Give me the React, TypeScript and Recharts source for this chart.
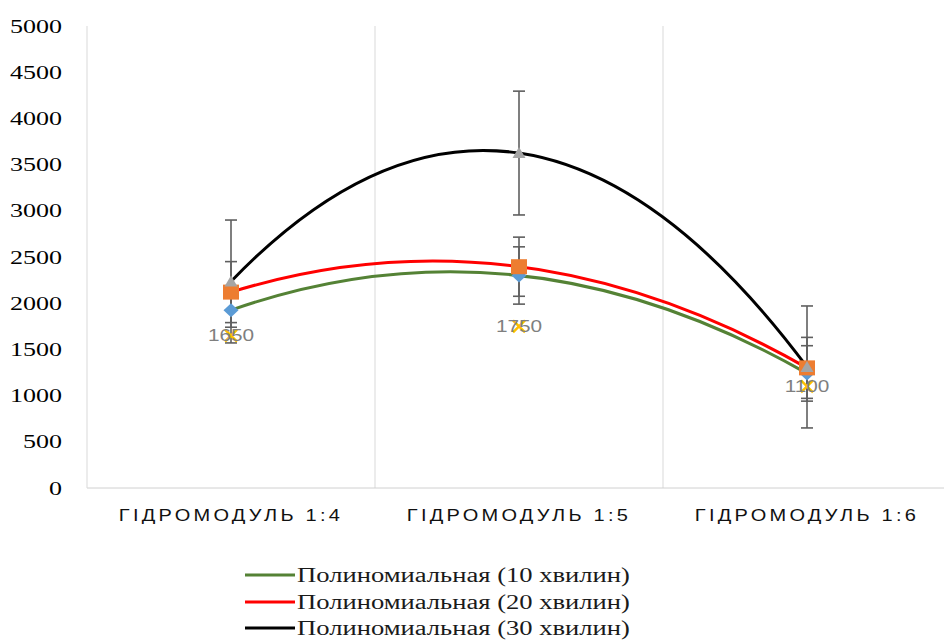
import React from 'react'
import { ComposedChart, Scatter, Line, XAxis, YAxis, ErrorBar, ReferenceLine, Legend, LabelList } from 'recharts'

const categories = ['ГІДРОМОДУЛЬ 1:4', 'ГІДРОМОДУЛЬ 1:5', 'ГІДРОМОДУЛЬ 1:6']
const yTicks = [0, 500, 1000, 1500, 2000, 2500, 3000, 3500, 4000, 4500, 5000]

// 10, 20, 30 хвилин + окрема серія з підписами
const min10 = [1925, 2300, 1240]
const err10 = [185, 310, 300]
const min20 = [2120, 2395, 1300]
const err20 = [330, 320, 330]
const min30 = [2235, 3625, 1310]
const err30 = [665, 670, 660]
const extra = [1650, 1750, 1100]

const trendNames = ['Полиномиальная (10 хвилин)', 'Полиномиальная (20 хвилин)', 'Полиномиальная (30 хвилин)']
const trendColors = ['#548235', '#FF0000', '#000000']

const data = categories.map((c, i) => ({
  x: i + 1,
  name: c,
  s10: min10[i], e10: err10[i],
  s20: min20[i], e20: err20[i],
  s30: min30[i], e30: err30[i],
  s40: extra[i],
}))

// polynomial (order 2) trendline through the three points: quadratic bezier
const quadCurve = (context: any) => {
  let pts: number[][] = []
  return {
    areaStart() {},
    areaEnd() {},
    lineStart() { pts = [] },
    point(x: number, y: number) { pts.push([+x, +y]) },
    lineEnd() {
      if (pts.length === 3) {
        const [p0, p1, p2] = pts
        context.moveTo(p0[0], p0[1])
        context.quadraticCurveTo(2 * p1[0] - (p0[0] + p2[0]) / 2, 2 * p1[1] - (p0[1] + p2[1]) / 2, p2[0], p2[1])
      } else {
        pts.forEach((p, i) => (i ? context.lineTo(p[0], p[1]) : context.moveTo(p[0], p[1])))
      }
    },
  }
}

const serif = "'Liberation Serif', 'Times New Roman', serif"
const sans = "'Liberation Sans', Arial, sans-serif"

const Diamond = ({ cx, cy }: any) => (
  <polygon points={`${cx},${cy - 7} ${cx + 7.5},${cy} ${cx},${cy + 7} ${cx - 7.5},${cy}`} fill="#5B9BD5" />
)
const Square = ({ cx, cy }: any) => <rect x={cx - 8} y={cy - 7.5} width={16} height={15} fill="#ED7D31" />
const Triangle = ({ cx, cy }: any) => (
  <polygon points={`${cx},${cy - 6} ${cx + 6.5},${cy + 5} ${cx - 6.5},${cy + 5}`} fill="#A5A5A5" />
)
const Cross = ({ cx, cy }: any) => (
  <g stroke="#FFC000" strokeWidth={2.5}>
    <line x1={cx - 6} y1={cy - 6} x2={cx + 6} y2={cy + 6} />
    <line x1={cx - 6} y1={cy + 6} x2={cx + 6} y2={cy - 6} />
  </g>
)

const YTick = ({ x, y, payload }: any) => (
  <text transform={`translate(${x},${y}) scale(1.37,1)`} textAnchor="end" dy="0.35em" fontFamily={serif} fontSize={19} fill="#000">
    {payload.value}
  </text>
)

const XTick = ({ x, y, payload }: any) => (
  <text transform={`translate(${x},${y}) scale(1.25,1)`} textAnchor="middle" dy="0.71em" fontFamily={sans} fontSize={16} letterSpacing={2.6} fill="#111">
    {categories[payload.value - 1]}
  </text>
)

const PointLabel = (props: any) => {
  const vb = props.viewBox || props
  const cx = vb.x + (vb.width || 0) / 2
  const cy = vb.y + (vb.height || 0) / 2
  return (
    <text transform={`translate(${cx},${cy}) scale(1.3,1)`} textAnchor="middle" dy="0.35em" fontFamily={sans} fontSize={16} fill="#7F7F7F">
      {props.value}
    </text>
  )
}

const renderLegend = () => (
  <div style={{ height: 80 }}>
    {trendNames.map((n, i) => (
      <div key={n} style={{ display: 'flex', alignItems: 'center', height: 26.5 }}>
        <svg width={50} height={6} style={{ flex: 'none' }}>
          <line x1={0} y1={3} x2={50} y2={3} stroke={trendColors[i]} strokeWidth={3} />
        </svg>
        <span style={{ fontFamily: serif, fontSize: 20, lineHeight: '22px', color: '#1a1a1a', display: 'inline-block', transform: 'scaleX(1.33)', transformOrigin: 'left center', whiteSpace: 'nowrap', marginLeft: 2 }}>
          {n}
        </span>
      </div>
    ))}
  </div>
)

export default function App() {
  return (
    <div style={{ width: 944, height: 642, background: '#fff', overflow: 'hidden' }}>
      <style>{'body{margin:0}'}</style>
      <ComposedChart width={944} height={642} data={data} margin={{ top: 26, right: -7, left: 0, bottom: 44 }}>
        <XAxis dataKey="x" type="number" domain={[0.5, 3.5]} ticks={[1, 2, 3]} height={30} tickSize={0} tickMargin={22} tick={<XTick />} axisLine={{ stroke: '#d0d0d0' }} />
        <YAxis type="number" domain={[0, 5000]} ticks={yTicks} width={87} tickSize={0} tickMargin={25} tick={<YTick />} axisLine={{ stroke: '#d9d9d9' }} tickLine={false} />
        <ReferenceLine x={1.5} stroke="#d9d9d9" />
        <ReferenceLine x={2.5} stroke="#d9d9d9" />
        <Scatter dataKey="s10" shape={<Diamond />} legendType="none" isAnimationActive={false}>
          <ErrorBar dataKey="e10" direction="y" width={6} stroke="#5f5f5f" strokeWidth={1.6} />
        </Scatter>
        <Scatter dataKey="s20" shape={<Square />} legendType="none" isAnimationActive={false}>
          <ErrorBar dataKey="e20" direction="y" width={6} stroke="#5f5f5f" strokeWidth={1.6} />
        </Scatter>
        <Scatter dataKey="s30" shape={<Triangle />} legendType="none" isAnimationActive={false}>
          <ErrorBar dataKey="e30" direction="y" width={6} stroke="#5f5f5f" strokeWidth={1.6} />
        </Scatter>
        <Scatter dataKey="s40" shape={<Cross />} legendType="none" isAnimationActive={false}>
          <LabelList dataKey="s40" content={<PointLabel />} />
        </Scatter>
        <Line dataKey="s10" name={trendNames[0]} type={quadCurve as any} stroke={trendColors[0]} strokeWidth={3} dot={false} activeDot={false} isAnimationActive={false} />
        <Line dataKey="s20" name={trendNames[1]} type={quadCurve as any} stroke={trendColors[1]} strokeWidth={3} dot={false} activeDot={false} isAnimationActive={false} />
        <Line dataKey="s30" name={trendNames[2]} type={quadCurve as any} stroke={trendColors[2]} strokeWidth={3} dot={false} activeDot={false} isAnimationActive={false} />
        <Legend verticalAlign="bottom" align="left" content={renderLegend} wrapperStyle={{ left: 245, top: 562, width: 420 }} />
      </ComposedChart>
    </div>
  )
}
